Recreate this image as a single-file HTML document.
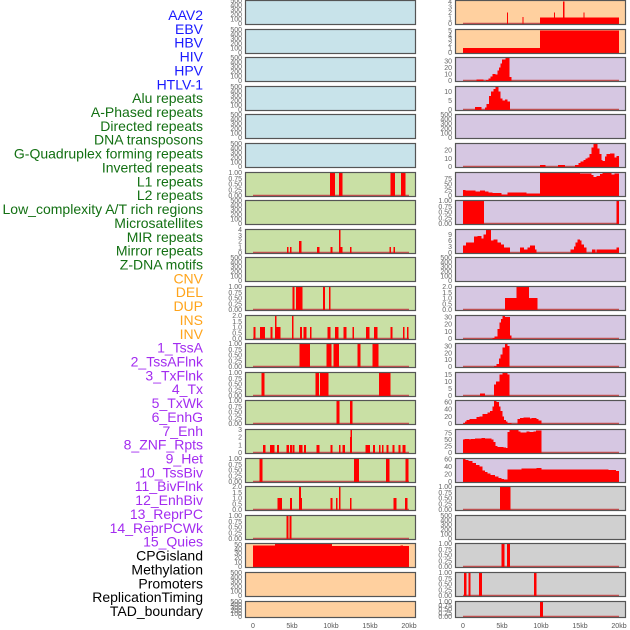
<!DOCTYPE html>
<html><head><meta charset="utf-8"><style>
html,body{margin:0;padding:0;background:#fff;width:630px;height:630px;overflow:hidden}
svg{display:block}
</style></head><body>
<svg id="chart" width="630" height="630" xmlns="http://www.w3.org/2000/svg" font-family="Liberation Sans, sans-serif"></svg>
<script>
// ---------- data ----------
const rowLabels = ["AAV2","EBV","HBV","HIV","HPV","HTLV-1","Alu repeats","A-Phased repeats","Directed repeats","DNA transposons","G-Quadruplex forming repeats","Inverted repeats","L1 repeats","L2 repeats","Low_complexity A/T rich regions","Microsatellites","MIR repeats","Mirror repeats","Z-DNA motifs","CNV","DEL","DUP","INS","INV","1_TssA","2_TssAFlnk","3_TxFlnk","4_Tx","5_TxWk","6_EnhG","7_Enh","8_ZNF_Rpts","9_Het","10_TssBiv","11_BivFlnk","12_EnhBiv","13_ReprPC","14_ReprPCWk","15_Quies","CPGisland","Methylation","Promoters","ReplicationTiming","TAD_boundary"];
const labelGroups = [6,13,5,15,5];
const xTickLabels = ["0","5kb","10kb","15kb","20kb"];
const xTickValues = [0,5,10,15,20];

const tk500 = [0,100,200,300,400,500];
const tk1 = ["0.00","0.25","0.50","0.75","1.00"];
const tk2 = ["0.0","0.5","1.0","1.5","2.0"];

const L_L1 = [[9.87,10.51,1],[11.03,11.5,1],[17.65,18.21,1],[18.97,19.57,1]];
const L_MIR = [[4.36,4.57,1],[4.74,4.96,1],[5.9,6.2,2],[8.21,8.5,1],[9.96,10.21,1],[11.03,11.2,4],[11.2,11.5,1],[12.44,12.65,1],[17.48,17.69,1],[17.99,18.21,1]];
const L_DEL = [[5.04,5.34,1],[5.51,6.37,1],[8.98,9.23,1],[9.74,9.96,1]];
const L_INS = [[0.04,0.34,1],[0.9,1.54,1],[2.27,2.52,1],[2.82,3.03,2],[3.03,3.55,1],[5.0,5.21,2],[6.03,6.28,1],[6.45,6.88,1],[7.31,7.52,1],[9.53,9.96,1],[10.51,10.94,1],[11.58,12.01,1],[12.74,12.95,1],[14.49,14.92,1],[15.51,15.94,1],[17.65,17.86,1],[19.23,19.45,1],[19.74,19.96,1]];
const L_TssA = [[5.94,7.31,1],[9.44,10.09,1],[10.3,11.03,1],[13.42,13.8,1],[15.34,16.07,1]];
const L_TssAFlnk = [[1.11,1.5,1],[8.03,8.46,1],[8.59,9.7,1],[16.15,17.65,1]];
const L_TxFlnk = [[10.73,11.07,1],[12.44,12.74,1]];
const L_ZNF = [[1.28,1.62,1],[2.18,2.74,1],[3.08,3.33,1],[4.27,4.62,1],[4.74,5.0,1],[5.09,5.34,1],[5.9,6.37,1],[6.54,6.8,1],[8.16,8.55,1],[9.92,10.21,1],[11.03,11.24,1],[11.5,11.8,1],[12.44,12.65,2],[12.52,12.69,3],[14.4,15.0,1],[15.38,15.64,1],[16.15,16.37,1],[16.54,16.75,1],[17.14,17.39,1],[17.91,18.16,1],[18.68,18.93,1],[19.15,19.57,1]];
const L_Het = [[0.81,1.24,1],[12.95,13.59,1],[17.05,17.48,1],[19.57,19.96,1]];
const L_BivFlnk = [[3.12,3.72,1],[4.74,5.0,1],[5.9,6.15,2],[6.15,6.28,1],[9.96,10.21,1],[10.64,10.86,1],[11.03,11.24,2],[12.44,12.65,1],[17.99,18.42,1],[19.49,19.79,1]];
const L_EnhBiv = [[4.32,4.57,1],[4.66,4.96,1]];
const L_CPG = [[0,2.82,48],[2.82,10.1,52],[10.1,18.9,46],[18.9,19.2,47],[19.2,20,46]];

const R_AAV2 = [[5.65,5.8,2],[7.6,7.75,1.2],[9.9,20,1.1],[11.65,11.8,2],[12.85,13.0,4],[15.45,15.6,2]];
const R_EBV = [[0,9.9,1],[9.9,20,5]];
const R_HIV = [[1.75,2.6,1.5],[2.95,3.25,1],[3.25,3.55,3],[3.55,3.76,6],[3.76,4.19,10],[4.19,4.44,9],[4.44,4.61,15],[4.61,4.79,20],[4.79,5.0,26],[5.0,5.43,32],[5.43,5.94,35],[5.94,6.24,5]];
const R_HPV = [[1.54,2.39,1.5],[2.82,3.03,1],[3.03,3.33,3],[3.33,3.59,7.5],[3.59,3.89,10],[3.89,4.15,11.5],[4.15,4.53,12.8],[4.53,4.83,10],[4.83,5.09,6],[5.09,5.38,5],[5.38,5.73,5.5],[5.73,6.03,4.5]];
const R_GQuad = [[9.87,10.6,2],[12.18,13.08,2],[14.36,14.79,2],[14.79,15.09,4],[15.09,15.43,6],[15.43,15.68,8],[15.68,15.94,10],[15.94,16.2,11],[16.2,16.5,15],[16.5,16.71,23],[16.71,17.26,28],[17.26,17.48,22],[17.48,17.73,15],[17.73,17.9,8],[17.9,18.21,7],[18.21,18.42,12],[18.42,18.85,15],[18.85,19.4,16],[19.4,19.7,11],[19.7,20,13]];
const R_L1 = [[0,0.34,24],[0.34,1.62,22],[1.62,2.18,18],[2.18,2.82,22],[2.82,3.25,18],[3.25,3.8,14],[3.8,4.96,10],[4.96,5.73,5],[5.73,8.16,12],[8.16,9.87,8],[9.87,14.36,100],[14.36,15,97],[15,16.5,95],[16.5,16.71,90],[16.71,17.14,80],[17.14,17.56,85],[17.56,17.86,93],[17.86,18.42,100],[18.42,19.06,97],[19.06,19.4,92],[19.4,20,95]];
const R_LowComplex = [[0,2.68,1],[19.7,20,1]];
const R_MIR = [[0,0.38,3.5],[0.38,1.41,5],[1.41,1.84,8],[1.84,2.39,8.3],[2.39,2.6,7],[2.6,2.95,9],[2.95,3.59,11.4],[3.59,3.89,6],[3.89,4.4,6.5],[4.4,4.87,5],[4.87,5.26,4],[5.26,6.03,2.5],[7.31,7.82,2.5],[7.82,8.25,1.5],[8.25,8.59,2.5],[8.59,9.23,3.5],[9.23,9.44,1.5],[13.8,14.23,1.5],[14.23,14.44,3],[14.44,14.7,5],[14.7,15,6.5],[15,15.21,6],[15.21,15.51,4],[15.51,15.85,2.5],[16.54,17.01,1.5],[17.14,19.7,1.5],[19.7,20,2.5]];
const R_CNV = [[5.38,6.88,1],[6.88,8.46,2],[8.46,9.57,1]];
const R_INS = [[3.76,4.02,1],[4.02,4.4,3],[4.4,4.66,13],[4.66,4.87,22],[4.87,5.09,27],[5.09,5.38,32],[5.38,6.03,30],[6.03,6.24,4]];
const R_TssA = [[3.97,4.32,1],[4.32,4.61,4],[4.61,4.83,12],[4.83,5.09,18],[5.09,5.38,28],[5.38,5.68,34],[5.68,5.94,30]];
const R_TssAFlnk = [[2.18,2.82,1.5],[3.97,4.23,8],[4.23,4.66,10],[4.66,5.04,15],[5.04,5.68,16.4],[5.68,5.94,15]];
const R_TxFlnk = [[0.04,0.26,1],[0.26,0.47,5],[0.47,0.81,10],[0.81,1.11,12],[1.11,1.75,13],[1.75,2.09,18],[2.09,2.52,20],[2.52,3.12,27],[3.12,3.46,30],[3.46,3.76,35],[3.76,3.97,47],[3.97,4.32,64],[4.32,4.62,60],[4.62,4.83,48],[4.83,5.04,35],[5.04,5.26,20],[5.26,5.51,10],[5.51,5.73,6],[5.73,6.24,2],[6.97,7.31,12],[7.31,7.74,16],[7.74,8.59,17],[8.59,8.8,14],[8.8,9.44,16],[9.44,9.66,12],[9.66,10.09,8]];
const R_ZNF = [[0,0.17,50],[0.17,0.81,52],[0.81,0.98,50],[0.98,1.54,53],[1.54,2.39,55],[2.39,2.82,57],[2.82,3.68,55],[3.68,3.89,50],[3.89,4.19,40],[4.19,4.44,25],[4.44,5.17,22],[5.17,5.51,20],[5.51,5.73,17],[5.73,5.94,80],[5.94,7.09,88],[7.09,7.39,82],[7.39,8.16,78],[8.16,8.5,82],[8.5,9.02,80],[9.02,9.36,82],[9.36,10.09,85]];
const R_Het = [[0,0.34,62],[0.34,0.68,58],[0.68,1.24,55],[1.24,1.67,50],[1.67,2.09,45],[2.09,2.52,40],[2.52,2.82,30],[2.82,3.12,25],[3.12,3.55,22],[3.55,4.1,18],[4.1,4.53,13],[4.53,4.96,10],[4.96,5.26,7],[5.26,5.73,5],[5.73,6.03,32],[6.03,7.52,33],[7.52,9.44,35],[9.44,10.09,36],[10.09,18.63,33],[18.63,19.62,31],[19.62,20,28]];
const R_TssBiv = [[4.74,6.11,1]];
const R_CPG = [[4.96,5.3,1],[5.64,6.03,1]];
const R_Methyl = [[0.13,0.47,1],[0.73,0.99,1],[2.05,2.44,1],[9.1,9.45,1]];
const R_TAD = [[9.87,10.26,1]];

const BLUE="#c8e3ea", GREEN="#c9e0a5", ORANGE="#ffd09f", PURPLE="#d6c7e2", GREY="#d0d0d0";
const leftPanels = [
 ["AAV2",BLUE,500,tk500,null],["EBV",BLUE,500,tk500,null],["HBV",BLUE,500,tk500,null],
 ["HIV",BLUE,500,tk500,null],["HPV",BLUE,500,tk500,null],["HTLV",BLUE,500,tk500,null],
 ["L1",GREEN,1,tk1,L_L1],["L2",GREEN,500,tk500,null],["MIR",GREEN,4,[0,1,2,3,4],L_MIR],
 ["empty",GREEN,500,tk500,null],["DEL",GREEN,1,tk1,L_DEL],["INS",GREEN,2,tk2,L_INS],
 ["TssA",GREEN,1,tk1,L_TssA],["TssAFlnk",GREEN,1,tk1,L_TssAFlnk],["TxFlnk",GREEN,1,tk1,L_TxFlnk],
 ["ZNF",GREEN,3,[0,1,2,3],L_ZNF],["Het",GREEN,1,tk1,L_Het],["BivFlnk",GREEN,2,tk2,L_BivFlnk],
 ["EnhBiv",GREEN,1,tk1,L_EnhBiv],["CPG",ORANGE,52,[0,10,20,30,40,50],L_CPG],
 ["Promoters",ORANGE,500,tk500,null],["TAD",ORANGE,500,tk500,null]
];
const rightPanels = [
 ["AAV2",ORANGE,4.2,[0,1,2,3,4],R_AAV2],["EBV",ORANGE,5.2,[0,1,2,3,4,5],R_EBV],
 ["HIV",PURPLE,35,[0,10,20,30],R_HIV],["HPV",PURPLE,12.8,[0,5,10],R_HPV],
 ["empty",PURPLE,500,tk500,null],["GQuad",PURPLE,28,[0,10,20],R_GQuad],
 ["L1",PURPLE,100,[0,25,50,75],R_L1],["LowComplex",PURPLE,1,tk1,R_LowComplex],
 ["MIR",PURPLE,11.4,[0,3,6,9],R_MIR],["empty2",PURPLE,500,tk500,null],
 ["CNV",PURPLE,2,tk2,R_CNV],["INS",PURPLE,32,[0,10,20,30],R_INS],
 ["TssA",PURPLE,34,[0,10,20,30],R_TssA],["TssAFlnk",PURPLE,16.4,[0,5,10,15],R_TssAFlnk],
 ["TxFlnk",PURPLE,64,[0,20,40,60],R_TxFlnk],["ZNF",PURPLE,89,[0,25,50,75],R_ZNF],
 ["Het",PURPLE,62,[0,20,40,60],R_Het],["TssBiv",GREY,1,tk1,R_TssBiv],
 ["empty3",GREY,500,tk500,null],["CPG",GREY,1,tk1,R_CPG],
 ["Methyl",GREY,1,tk1,R_Methyl],["TAD",GREY,1,tk1,R_TAD]
];

const NS="http://www.w3.org/2000/svg";
const svg=document.getElementById('chart');
function mk(tag,attrs,parent){const e=document.createElementNS(NS,tag);for(const k in attrs)e.setAttribute(k,attrs[k]);(parent||svg).appendChild(e);return e;}

const groupColors=["#1a1aff","#137013","#ffa41b","#a32cf0","#000000"];
let gi=0,gc=0;
rowLabels.forEach((lab,i)=>{
  while(gc>=labelGroups[gi]){gi++;gc=0;}
  gc++;
  const t=mk('text',{x:203,y:15+i*13.86+5,'text-anchor':'end','font-size':14,fill:groupColors[gi]});
  
  
  t.textContent=lab;
});

function drawColumn(panels,px0,colName){
  const xs=kb=>px0+8+kb*7.8;
  panels.forEach((p,i)=>{
    const top=Math.round(i*28.6), h=(i===panels.length-1)?17:25;
    const g=mk('g',{});
    
    
    mk('rect',{x:px0,y:top,width:171,height:h,fill:p[1]},g);
    const y0=top+h-1.5, ymax=p[2];
    const ys=v=>y0-(v/ymax)*(h-2);
    p[3].forEach(tv=>{
      const v=parseFloat(tv);
      const t=mk('text',{x:px0-3,y:ys(v)+2.5,'text-anchor':'end','font-size':7,fill:'#666'},g);
      
      
      t.textContent=tv;
    });
    if(p[4]){
      mk('line',{x1:xs(0),x2:xs(20),y1:y0,y2:y0,stroke:'#c85050','stroke-width':1.5},g);
      p[4].forEach(s=>{
        const r=mk('rect',{x:xs(s[0]),y:ys(s[2]),width:Math.max(xs(s[1])-xs(s[0]),1),height:y0-ys(s[2])+0.5,fill:'#ff0000','shape-rendering':'crispEdges'},g);
        
        
      });
    }
    mk('rect',{x:px0+0.5,y:top+0.5,width:170,height:h-1,fill:'none',stroke:'#555','stroke-width':1.2},g);
  });
  xTickValues.forEach((v,j)=>{
    const t=mk('text',{x:xs(v),y:628,'text-anchor':'middle','font-size':7,fill:'#555'});
    
    
    t.textContent=xTickLabels[j];
  });
}
drawColumn(leftPanels,245,'left');
drawColumn(rightPanels,455,'right');
</script>
</body></html>
